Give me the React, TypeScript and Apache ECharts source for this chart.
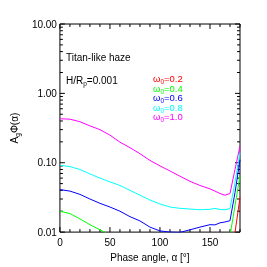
import React, { useEffect, useRef } from "react";
import * as echarts from "echarts";

const phaseMain = [0, 10, 20, 30, 40, 50, 60, 70, 80, 90, 100, 110, 120, 130, 140, 150, 155, 160, 165, 170, 175, 180];
const w10 = [0.43, 0.425, 0.39, 0.34, 0.30, 0.25, 0.198, 0.165, 0.135, 0.108, 0.09, 0.076, 0.064, 0.054, 0.047, 0.042, 0.039, 0.036, 0.034, 0.036, 0.08, 0.174];
const w08 = [0.092, 0.088, 0.080, 0.069, 0.060, 0.053, 0.047, 0.040, 0.034, 0.029, 0.0255, 0.023, 0.022, 0.0215, 0.021, 0.0213, 0.022, 0.0212, 0.021, 0.0218, 0.052, 0.14];
const w06 = [0.041, 0.039, 0.035, 0.030, 0.026, 0.023, 0.020, 0.0167, 0.0145, 0.0118, 0.0104, 0.0100, 0.0099, 0.0108, 0.0118, 0.0128, 0.0127, 0.0136, 0.014, 0.0146, 0.037, 0.11];
const phaseW04 = [0, 10, 20, 30, 40, 46, 100, 170.5, 180];
const w04 = [0.020, 0.0185, 0.0155, 0.0128, 0.0108, 0.0098, null, 0.0098, 0.065];
const phaseW02 = [175, 180];
const w02 = [0.0098, 0.0316];

const seriesNames = ["0.2", "0.4", "0.6", "0.8", "1.0"];
const seriesColors = ["#ff0000", "#00ff00", "#0000ff", "#00ffff", "#ff00ff"];

const xTickValues = [0, 10, 20, 30, 40, 50, 60, 70, 80, 90, 100, 110, 120, 130, 140, 150, 160, 170, 180];
const yMajor = [0.01, 0.1, 1, 10];
const yMinorMult = [2, 3, 4, 5, 6, 7, 8, 9];

const pairs = (xs: number[], ys: (number | null)[]) =>
  xs.map((x, i) => [x, ys[i] === null ? "-" : ys[i]]);

export default function App() {
  const ref = useRef<HTMLDivElement>(null);
  useEffect(() => {
    if (!ref.current) return;
    const chart = echarts.init(ref.current, null, { renderer: "svg" });
    const font = "Liberation Sans, Arial, sans-serif";
    const yTicks: number[][] = [];
    yMajor.forEach((m) => {
      yTicks.push([0, m, 1]);
      if (m < 10) yMinorMult.forEach((k) => yTicks.push([0, m * k, 0]));
    });
    const xTicks = xTickValues.map((v) => [v, 0.01, v % 50 === 0 ? 1 : 0]);
    const lineSeries = (name: string, color: string, data: any[]) => ({
      type: "line",
      name,
      data,
      showSymbol: false,
      symbol: "none",
      lineStyle: { color, width: 1 },
      connectNulls: false,
      clip: true,
    });
    const subRich = (size: number, color: string) => ({
      a: { fontSize: size, lineHeight: 10, fontFamily: font, fill: color, color },
      s: { fontSize: 6.5, lineHeight: 4, fontFamily: font, fill: color, color, padding: [6, 0, 0, 0] },
    });
    chart.setOption({
      animation: false,
      grid: { left: 46, right: 27, top: 24, bottom: 27, show: true, borderColor: "#000", borderWidth: 1, backgroundColor: "transparent" },
      xAxis: {
        type: "value",
        min: 0,
        max: 180,
        interval: 50,
        axisLine: { show: false },
        axisTick: { show: false },
        splitLine: { show: false },
        axisLabel: { color: "#000", fontSize: 10, fontFamily: font, margin: 5, showMaxLabel: false },
        name: "Phase angle, α [°]",
        nameLocation: "middle",
        nameGap: 19,
        nameTextStyle: { color: "#000", fontSize: 10, fontFamily: font },
      },
      yAxis: {
        type: "log",
        min: 0.01,
        max: 10,
        logBase: 10,
        axisLine: { show: false },
        axisTick: { show: false },
        splitLine: { show: false },
        axisLabel: {
          color: "#000",
          fontSize: 10,
          fontFamily: font,
          margin: 3,
          formatter: (v: number) => v.toFixed(2),
        },
        name: "{a|A}{s|g}{a|Φ(α)}",
        nameLocation: "middle",
        nameRotate: 90,
        nameGap: 30,
        nameTextStyle: {
          color: "#000",
          fontFamily: font,
          rich: subRich(10, "#000"),
        },
      },
      series: [
        lineSeries(seriesNames[4], seriesColors[4], pairs(phaseMain, w10)),
        lineSeries(seriesNames[3], seriesColors[3], pairs(phaseMain, w08)),
        lineSeries(seriesNames[2], seriesColors[2], pairs(phaseMain, w06)),
        lineSeries(seriesNames[1], seriesColors[1], pairs(phaseW04, w04)),
        lineSeries(seriesNames[0], seriesColors[0], pairs(phaseW02, w02)),
        {
          type: "custom",
          data: xTicks,
          clip: false,
          renderItem: (params: any, api: any) => {
            const v = api.value(0);
            const major = api.value(2) === 1;
            const len = major ? 5 : 3;
            const b = api.coord([v, 0.01]);
            const t = api.coord([v, 10]);
            const style = { stroke: "#000", lineWidth: 1 };
            return {
              type: "group",
              children: [
                { type: "line", shape: { x1: b[0], y1: b[1], x2: b[0], y2: b[1] - len }, style },
                { type: "line", shape: { x1: t[0], y1: t[1], x2: t[0], y2: t[1] + len }, style },
              ],
            };
          },
        },
        {
          type: "custom",
          data: yTicks,
          clip: false,
          renderItem: (params: any, api: any) => {
            const v = api.value(1);
            const major = api.value(2) === 1;
            const len = major ? 5 : 3;
            const l = api.coord([0, v]);
            const r = api.coord([180, v]);
            const style = { stroke: "#000", lineWidth: 1 };
            return {
              type: "group",
              children: [
                { type: "line", shape: { x1: l[0], y1: l[1], x2: l[0] + len, y2: l[1] }, style },
                { type: "line", shape: { x1: r[0], y1: r[1], x2: r[0] - len, y2: r[1] }, style },
              ],
            };
          },
        },
      ],
      graphic: [
        { type: "text", left: 66, top: 52, style: { text: "Titan-like haze", fontSize: 10, fontFamily: font, fill: "#000" } },
        {
          type: "text",
          left: 66,
          top: 74,
          style: {
            text: "{a|H/R}{s|p}{a|=0.001}",
            fontFamily: font,
            fill: "#000",
            rich: subRich(10, "#000"),
          },
        },
        ...seriesNames.map((n, i) => ({
          type: "text",
          left: 153,
          top: 72 + i * 9.5,
          style: {
            text: `{a|ω}{s|0}{a|=${n}}`,
            fontFamily: font,
            fill: seriesColors[i],
            rich: subRich(9.5, seriesColors[i]),
          },
        })),
      ],
    });
    return () => chart.dispose();
  }, []);
  return <div ref={ref} style={{ position: "fixed", left: 0, top: 0, width: 267, height: 267 }} />;
}
